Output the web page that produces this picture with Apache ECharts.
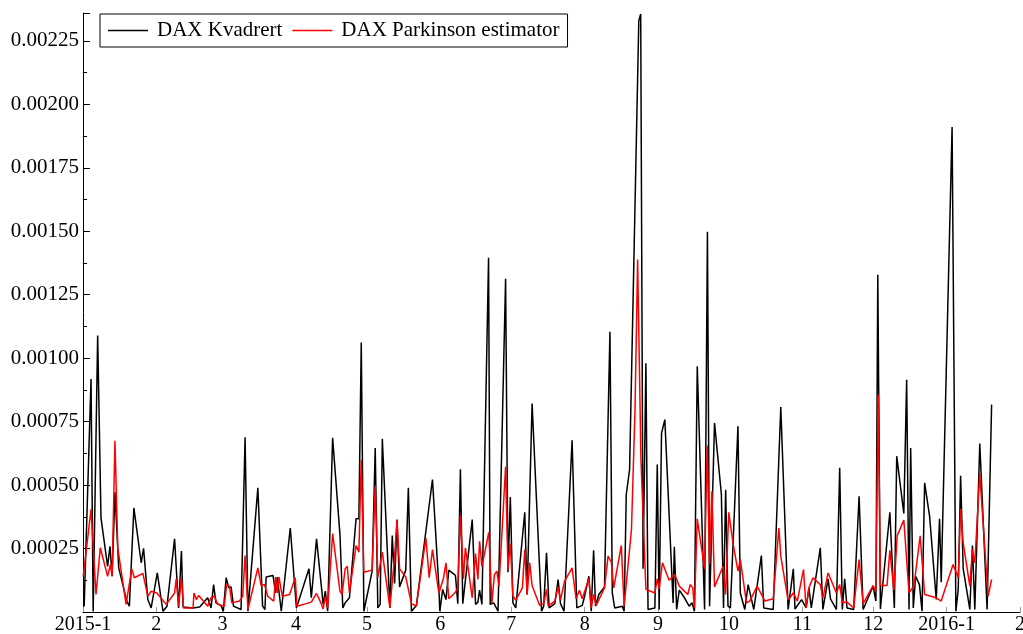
<!DOCTYPE html>
<html>
<head>
<meta charset="utf-8">
<script src="https://cdn.jsdelivr.net/npm/echarts@6/dist/echarts.min.js"></script>
<style>
html,body{margin:0;padding:0;background:#fff;}
#chart{width:1023px;height:634px;}
</style>
</head>
<body>
<div id="chart"></div>
<script>
// x values: days since 2015-01-01
const monthStarts = [0,31,59,90,120,151,181,212,243,273,304,334,365,396];
const monthLabels = ['2015-1','2','3','4','5','6','7','8','9','10','11','12','2016-1','2'];
const yTicks = [0.00025,0.0005,0.00075,0.001,0.00125,0.0015,0.00175,0.002,0.00225];

const kvDays = [0.5,3.4,4.3,6.2,7.6,10.4,11.4,12.3,13.5,15.1,18.5,19.6,21.5,24.6,25.6,27.4,28.8,31.4,33.8,35.5,38.7,40.4,41.6,42.3,46.5,49.3,
52.7,54.1,55.2,56.2,58.3,59.3,60.5,61.6,62.6,63.6,66.8,68.5,69.7,73.9,75.9,76.9,77.4,80.3,81.4,82.1,82.8,83.8,87.6,90.2,95.5,96.5,98.7,101.5,
102.4,103.4,105.5,108.6,109.8,110.8,112.6,115.4,116.6,117.6,118.7,122.2,123.5,124.6,125.6,126.5,129.7,130.7,131.7,132.7,133.8,136.4,137.5,138.8,140.9,147.7,150.4,150.8,152.0,
153.4,154.6,157.4,158.4,159.5,160.5,164.5,165.9,166.9,167.6,168.6,171.4,172.1,173.6,175.4,178.6,179.6,180.6,181.7,182.9,186.7,187.7,189.8,193.8,194.7,195.9,197.0,199.4,200.8,201.8,203.3,
206.7,208.7,211.0,212.0,213.8,214.8,215.8,216.6,218.0,220.4,222.7,223.7,224.7,227.9,228.7,229.6,231.0,234.9,235.7,236.7,237.9,238.8,241.7,242.7,243.5,244.5,245.9,249.4,249.9,250.9,252.0,
254.2,256.2,257.4,258.4,259.6,262.7,263.9,264.8,266.9,269.8,270.7,271.6,272.6,273.6,276.8,277.8,279.7,281.1,283.5,286.7,287.7,291.7,294.9,298.0,300.2,300.9,303.7,
305.6,306.8,307.8,311.6,312.7,314.9,315.9,318.4,319.8,320.9,321.9,322.9,325.7,328.0,329.7,333.9,335.1,335.9,337.0,341.0,342.9,343.9,346.9,348.1,349.1,349.8,350.9,351.9,
353.5,354.6,355.7,357.8,360.6,362.0,362.7,367.3,368.9,369.9,370.9,372.0,374.8,375.9,376.9,379.0,382.1,384.0];
const kvValues = [0.000023,0.000918,0.000002,0.001089,0.000371,0.000180,0.000259,0.000141,0.000472,0.000174,0.000043,0.000023,0.000410,0.000194,0.000251,0.000049,0.000016,0.000154,0.000003,0.000023,0.000288,0.000016,0.000240,0.000020,0.000016,0.000020,
0.000056,0.000016,0.000108,0.000036,0.000026,0.000003,0.000135,0.000095,0.000099,0.000023,0.000010,0.000688,0.000003,0.000489,0.000023,0.000010,0.000138,0.000144,0.000075,0.000138,0.000138,0.000003,0.000331,0.000016,0.000170,0.000056,0.000288,0.000030,
0.000082,0.000003,0.000686,0.000305,0.000016,0.000036,0.000056,0.000367,0.000367,0.001062,0.000003,0.000161,0.000646,0.000016,0.000030,0.000682,0.000016,0.000301,0.000112,0.000364,0.000099,0.000165,0.000489,0.000003,0.000026,0.000522,0.000099,0.000003,0.000089,
0.000049,0.000165,0.000144,0.000033,0.000562,0.000033,0.000364,0.000030,0.000039,0.000086,0.000030,0.001396,0.000030,0.000036,0.000003,0.001313,0.000157,0.000453,0.000036,0.000016,0.000393,0.000069,0.000821,0.000003,0.000023,0.000233,0.000016,0.000033,0.000128,0.000033,0.000003,
0.000677,0.000016,0.000026,0.000062,0.000141,0.000003,0.000243,0.000023,0.000069,0.000099,0.001104,0.000075,0.000016,0.000023,0.000003,0.000463,0.000561,0.002330,0.002356,0.000170,0.000980,0.000010,0.000016,0.000581,0.000010,0.000705,0.000758,0.000036,0.000257,0.000010,0.000086,
0.000056,0.000023,0.000036,0.000003,0.000968,0.000010,0.001498,0.000023,0.000745,0.000463,0.000016,0.000482,0.000023,0.000016,0.000732,0.000075,0.000010,0.000108,0.000010,0.000222,0.000016,0.000010,0.000808,0.000010,0.000170,0.000012,0.000049,
0.000016,0.000095,0.000016,0.000253,0.000010,0.000131,0.000052,0.000010,0.000568,0.000010,0.000131,0.000016,0.000010,0.000456,0.000010,0.000102,0.000043,0.001329,0.000012,0.000393,0.000016,0.000614,0.000388,0.000915,0.000010,0.000646,0.000016,0.000141,
0.000108,0.000003,0.000509,0.000377,0.000049,0.000367,0.000117,0.001911,0.000003,0.000089,0.000537,0.000170,0.000010,0.000262,0.000010,0.000664,0.000010,0.000817];

const pkDays = [0.1,3.4,5.5,7.3,10.4,11.6,12.3,13.5,14.7,18.2,20.6,21.7,25.3,27.4,28.8,31.2,35.2,38.7,39.4,40.4,41.6,42.5,46.5,46.9,47.9,48.9,
52.7,54.1,55.5,56.9,59.7,60.7,61.9,62.9,66.1,67.5,68.5,69.7,73.9,75.3,76.7,78.1,80.6,81.4,82.1,82.8,84.2,87.3,89.7,90.4,94.4,96.5,98.7,100.4,101.5,
102.4,103.4,105.5,108.6,109.5,110.8,111.7,112.6,115.4,116.6,117.6,118.7,122.2,123.5,124.6,126.5,129.7,131.7,132.7,133.8,136.4,138.8,140.9,144.9,146.3,147.7,150.4,152.3,
153.4,154.6,157.4,158.4,159.5,160.8,161.6,164.5,165.9,166.9,167.6,168.6,171.5,172.8,173.9,174.9,175.8,178.6,179.6,180.6,181.7,182.9,185.7,186.7,187.7,188.8,189.8,193.0,194.7,195.9,196.6,199.4,200.8,201.8,
203.5,206.7,208.4,209.8,211.0,213.8,214.8,215.8,216.9,220.4,221.9,223.3,224.3,227.5,228.7,231.8,233.3,234.4,235.8,237.9,241.7,242.7,243.5,244.9,247.7,250.1,252.0,
255.6,256.6,257.7,258.4,259.6,262.7,263.8,264.8,265.8,266.9,270.5,271.6,272.9,274.7,276.8,277.8,280.4,281.8,284.9,288.2,291.7,294.1,294.9,298.0,300.2,301.9,304.5,
305.6,306.8,308.5,311.6,312.7,314.9,318.4,319.8,320.9,322.9,325.7,328.0,329.7,333.9,335.1,336.1,337.0,339.8,341.0,342.7,344.1,346.9,349.1,351.2,
353.8,355.7,360.6,362.7,367.7,369.9,370.9,372.0,374.8,375.9,376.9,379.0,382.5,384.0];
const pkValues = [0.000141,0.000404,0.000069,0.000253,0.000141,0.000187,0.000141,0.000675,0.000253,0.000030,0.000170,0.000135,0.000152,0.000062,0.000082,0.000075,0.000030,0.000075,0.000131,0.000023,0.000135,0.000016,0.000016,0.000075,0.000049,0.000065,
0.000023,0.000056,0.000062,0.000030,0.000023,0.000108,0.000102,0.000036,0.000043,0.000062,0.000222,0.000010,0.000174,0.000104,0.000108,0.000062,0.000043,0.000138,0.000075,0.000138,0.000062,0.000069,0.000135,0.000023,0.000033,0.000039,0.000073,0.000039,0.000012,
0.000062,0.000016,0.000309,0.000082,0.000069,0.000170,0.000180,0.000075,0.000262,0.000236,0.000600,0.000157,0.000165,0.000498,0.000135,0.000236,0.000016,0.000220,0.000362,0.000170,0.000138,0.000033,0.000023,0.000292,0.000135,0.000246,0.000075,0.000131,
0.000194,0.000052,0.000078,0.000095,0.000380,0.000131,0.000253,0.000056,0.000230,0.000128,0.000279,0.000180,0.000314,0.000036,0.000148,0.000161,0.000102,0.000572,0.000167,0.000270,0.000062,0.000047,0.000095,0.000246,0.000069,0.000194,0.000104,0.000026,0.000033,0.000089,0.000023,0.000043,0.000099,0.000047,
0.000121,0.000174,0.000052,0.000086,0.000052,0.000131,0.000016,0.000069,0.000026,0.000095,0.000220,0.000196,0.000095,0.000262,0.000023,0.000325,0.000800,0.001389,0.000600,0.000089,0.000075,0.000131,0.000091,0.000194,0.000125,0.000148,0.000102,
0.000069,0.000108,0.000095,0.000016,0.000367,0.000170,0.000656,0.000187,0.000476,0.000099,0.000180,0.000069,0.000393,0.000272,0.000161,0.000207,0.000036,0.000043,0.000102,0.000043,0.000052,0.000331,0.000220,0.000047,0.000075,0.000043,0.000167,
0.000016,0.000095,0.000135,0.000108,0.000056,0.000154,0.000075,0.000108,0.000036,0.000039,0.000016,0.000207,0.000033,0.000104,0.000082,0.000856,0.000104,0.000104,0.000243,0.000086,0.000301,0.000362,0.000075,0.000104,
0.000300,0.000069,0.000056,0.000043,0.000187,0.000135,0.000406,0.000272,0.000102,0.000246,0.000194,0.000545,0.000062,0.000128];

const kvData = kvDays.map((d, i) => [d, kvValues[i]]);
const pkData = pkDays.map((d, i) => [d, pkValues[i]]);

const FONT = 'Liberation Serif';
const chart = echarts.init(document.getElementById('chart'), null, {renderer: 'canvas'});
chart.setOption({
  animation: false,
  backgroundColor: '#fff',
  grid: {left: 83, right: 3, top: 13, bottom: 22, containLabel: false, outerBoundsMode: 'none'},
  legend: {
    left: 100, top: 14,
    orient: 'horizontal',
    borderColor: '#000', borderWidth: 1,
    padding: [6, 8, 6, 8],
    icon: 'rect',
    itemWidth: 40, itemHeight: 1.5, itemGap: 10,
    textStyle: {fontFamily: FONT, fontSize: 21, color: '#000', padding: [0, 0, 0, 4]},
    data: ['DAX Kvadrert', 'DAX Parkinson estimator']
  },
  xAxis: {
    type: 'value', min: 0, max: 396,
    axisLine: {show: true, lineStyle: {color: '#000', width: 1}},
    splitLine: {show: false},
    axisTick: {show: true, inside: true, length: 5, lineStyle: {color: '#999'}, customValues: monthStarts},
    axisLabel: {
      customValues: monthStarts,
      margin: 3,
      fontFamily: FONT, fontSize: 20, color: '#000',
      formatter: v => monthLabels[monthStarts.indexOf(v)]
    }
  },
  yAxis: {
    type: 'value', min: 0, max: 0.00236, interval: 0.00025,
    axisLine: {show: true, lineStyle: {color: '#000', width: 1}},
    splitLine: {show: false},
    axisTick: {show: true, inside: true, length: 7, lineStyle: {color: '#000'}},
    minorTick: {show: true, splitNumber: 2, length: 4, lineStyle: {color: '#000'}},
    axisLabel: {
      customValues: yTicks,
      margin: 4,
      fontFamily: FONT, fontSize: 21, color: '#000',
      formatter: v => v.toFixed(5)
    }
  },
  series: [
    {name: 'DAX Kvadrert', type: 'line', data: kvData, symbol: 'none', color: '#000',
     lineStyle: {color: '#000', width: 1.5}},
    {name: 'DAX Parkinson estimator', type: 'line', data: pkData, symbol: 'none', color: '#ff0000',
     lineStyle: {color: '#ff0000', width: 1.5}}
  ]
});
</script>
</body>
</html>
